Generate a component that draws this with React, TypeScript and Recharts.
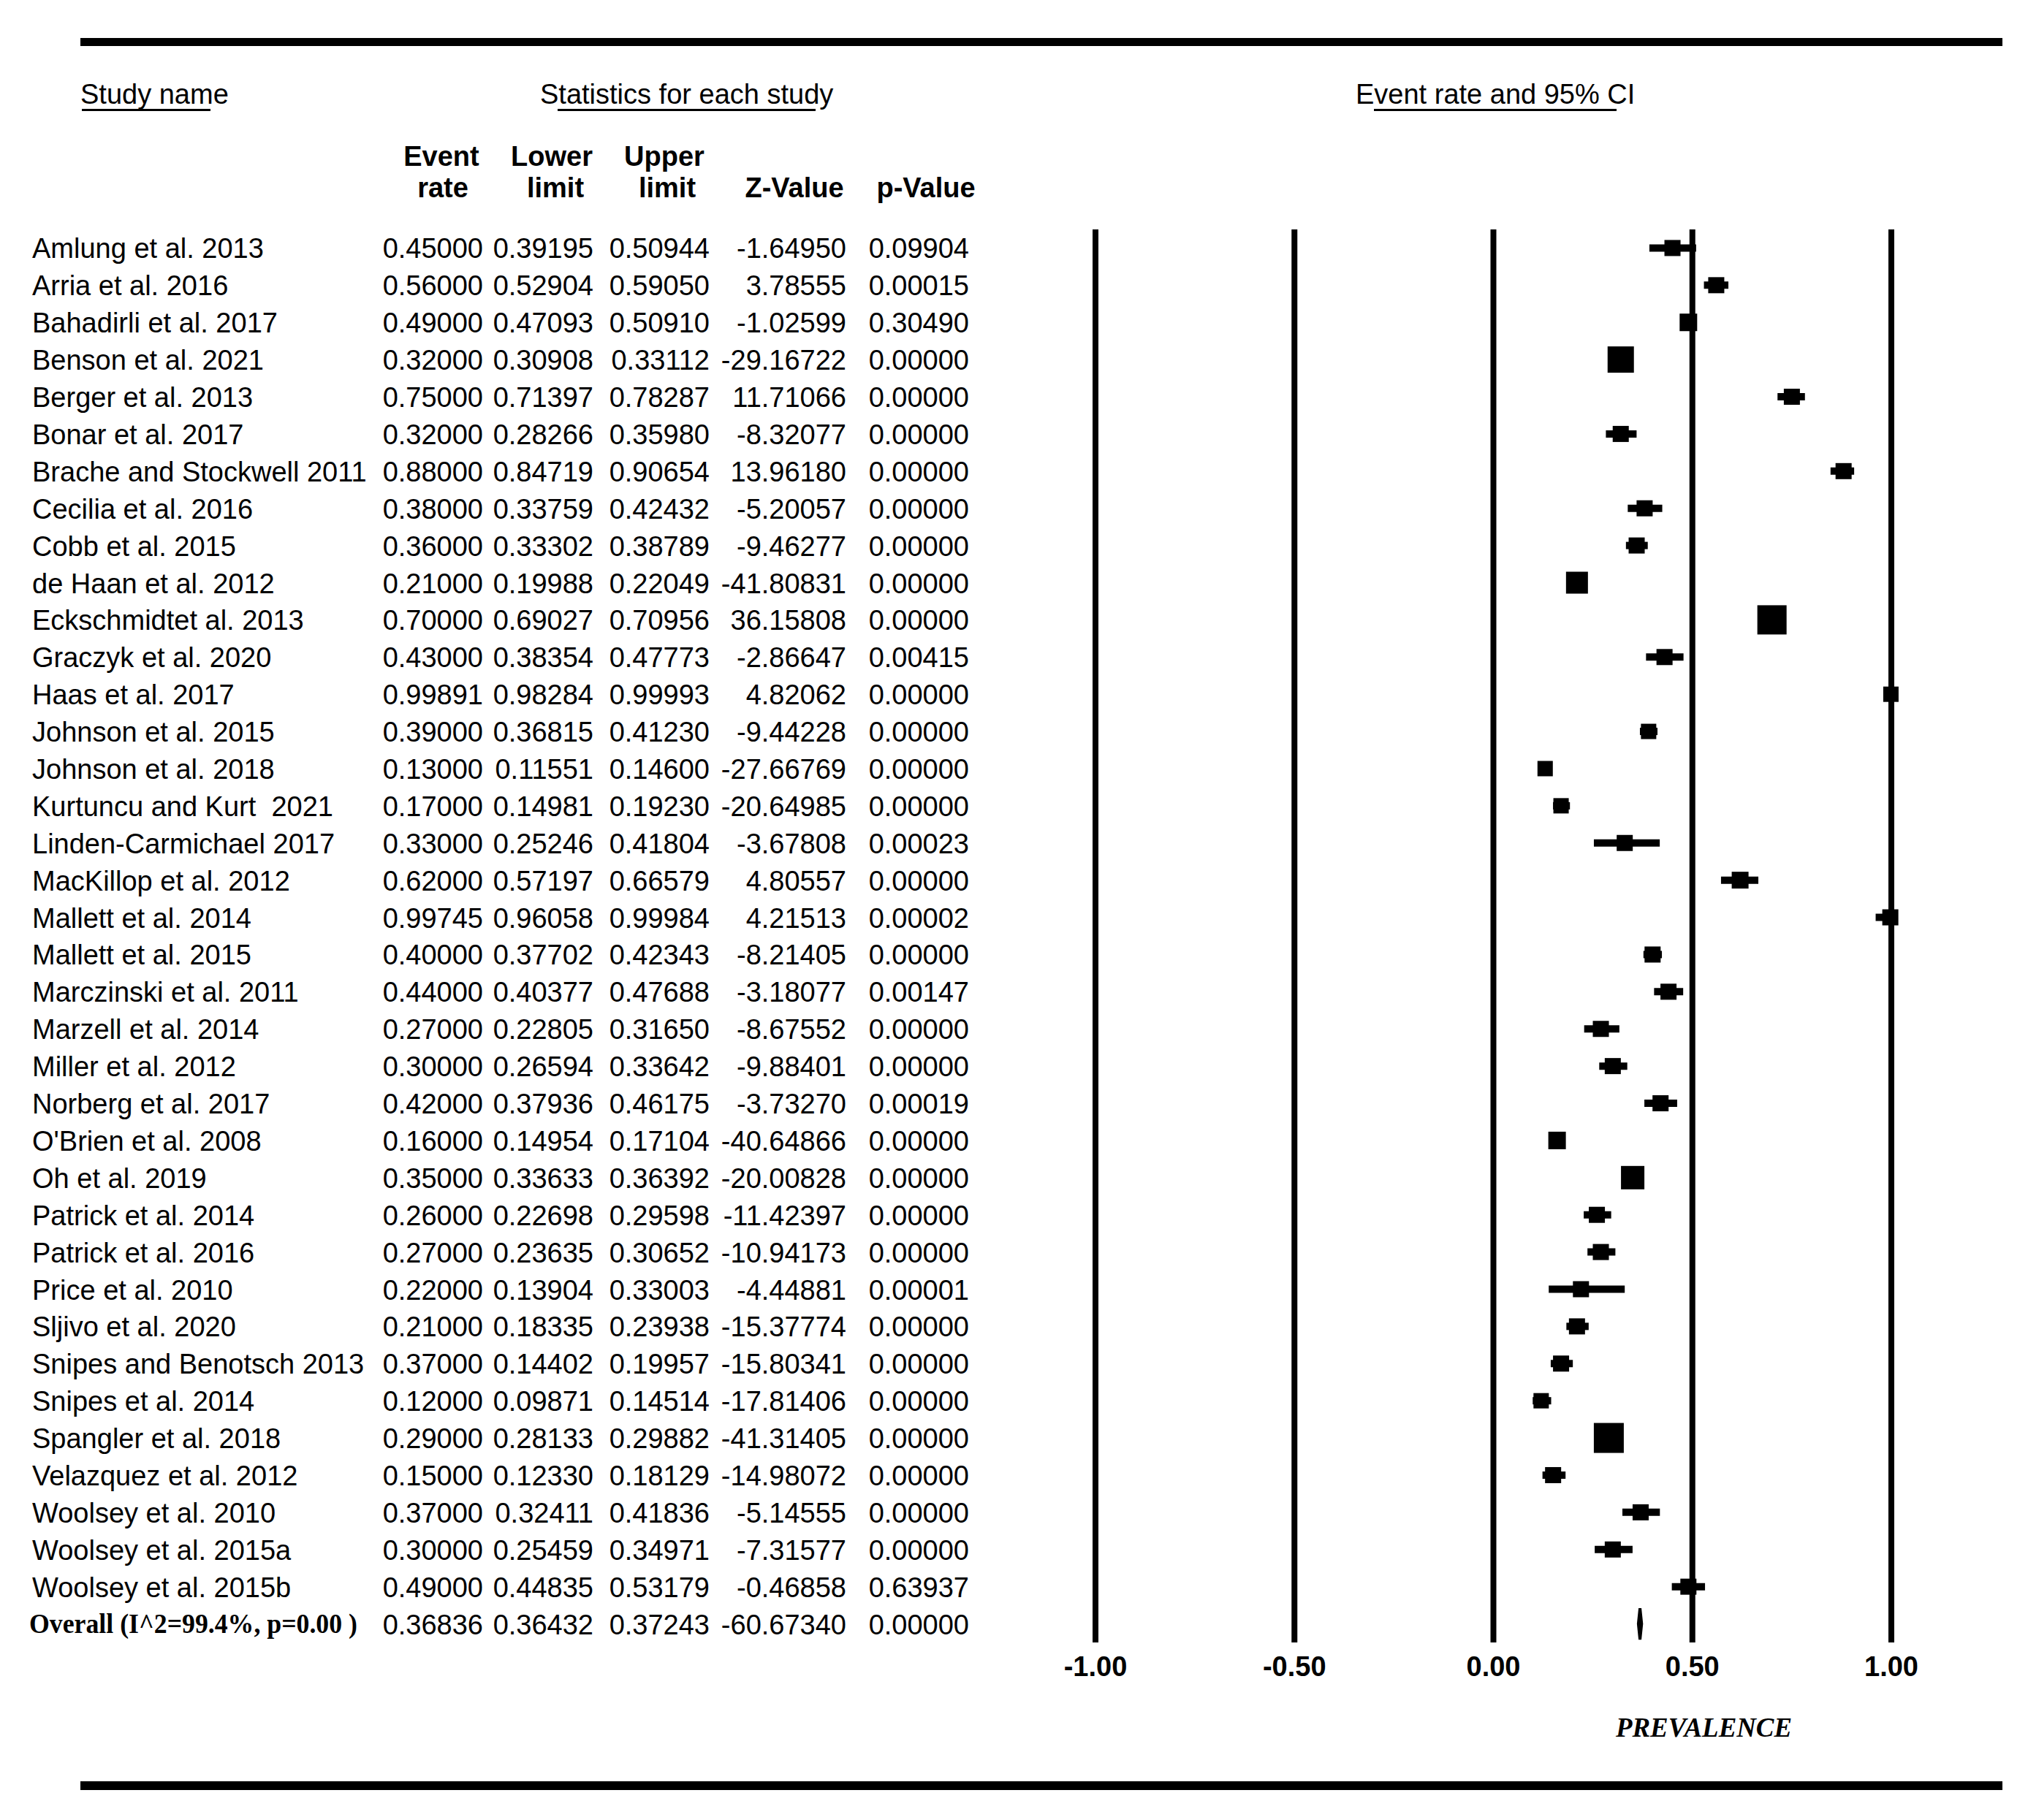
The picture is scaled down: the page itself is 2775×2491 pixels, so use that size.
import React from "react";
import { ComposedChart, Scatter, ErrorBar, XAxis, YAxis, ReferenceLine } from "recharts";

const studies = [
  "Amlung et al. 2013", "Arria et al. 2016", "Bahadirli et al. 2017", "Benson et al. 2021",
  "Berger et al. 2013", "Bonar et al. 2017", "Brache and Stockwell 2011", "Cecilia et al. 2016",
  "Cobb et al. 2015", "de Haan et al. 2012", "Eckschmidtet al. 2013", "Graczyk et al. 2020",
  "Haas et al. 2017", "Johnson et al. 2015", "Johnson et al. 2018", "Kurtuncu and Kurt  2021",
  "Linden-Carmichael 2017", "MacKillop et al. 2012", "Mallett et al. 2014", "Mallett et al. 2015",
  "Marczinski et al. 2011", "Marzell et al. 2014", "Miller et al. 2012", "Norberg et al. 2017",
  "O'Brien et al. 2008", "Oh et al. 2019", "Patrick et al. 2014", "Patrick et al. 2016",
  "Price et al. 2010", "Sljivo et al. 2020", "Snipes and Benotsch 2013", "Snipes et al. 2014",
  "Spangler et al. 2018", "Velazquez et al. 2012", "Woolsey et al. 2010", "Woolsey et al. 2015a",
  "Woolsey et al. 2015b",
];
const eventRates = [
  0.45, 0.56, 0.49, 0.32, 0.75, 0.32, 0.88, 0.38, 0.36, 0.21, 0.7, 0.43, 0.99891, 0.39, 0.13, 0.17,
  0.33, 0.62, 0.99745, 0.4, 0.44, 0.27, 0.3, 0.42, 0.16, 0.35, 0.26, 0.27, 0.22, 0.21, 0.37, 0.12,
  0.29, 0.15, 0.37, 0.3, 0.49,
];
const lowerLimits = [
  0.39195, 0.52904, 0.47093, 0.30908, 0.71397, 0.28266, 0.84719, 0.33759, 0.33302, 0.19988, 0.69027,
  0.38354, 0.98284, 0.36815, 0.11551, 0.14981, 0.25246, 0.57197, 0.96058, 0.37702, 0.40377, 0.22805,
  0.26594, 0.37936, 0.14954, 0.33633, 0.22698, 0.23635, 0.13904, 0.18335, 0.14402, 0.09871, 0.28133,
  0.1233, 0.32411, 0.25459, 0.44835,
];
const upperLimits = [
  0.50944, 0.5905, 0.5091, 0.33112, 0.78287, 0.3598, 0.90654, 0.42432, 0.38789, 0.22049, 0.70956,
  0.47773, 0.99993, 0.4123, 0.146, 0.1923, 0.41804, 0.66579, 0.99984, 0.42343, 0.47688, 0.3165,
  0.33642, 0.46175, 0.17104, 0.36392, 0.29598, 0.30652, 0.33003, 0.23938, 0.19957, 0.14514, 0.29882,
  0.18129, 0.41836, 0.34971, 0.53179,
];
const zValues = [
  -1.6495, 3.78555, -1.02599, -29.16722, 11.71066, -8.32077, 13.9618, -5.20057, -9.46277, -41.80831,
  36.15808, -2.86647, 4.82062, -9.44228, -27.66769, -20.64985, -3.67808, 4.80557, 4.21513, -8.21405,
  -3.18077, -8.67552, -9.88401, -3.7327, -40.64866, -20.00828, -11.42397, -10.94173, -4.44881,
  -15.37774, -15.80341, -17.81406, -41.31405, -14.98072, -5.14555, -7.31577, -0.46858,
];
const pValues = [
  0.09904, 0.00015, 0.3049, 0, 0, 0, 0, 0, 0, 0, 0, 0.00415, 0, 0, 0, 0, 0.00023, 0, 0.00002, 0,
  0.00147, 0, 0, 0.00019, 0, 0, 0, 0, 0.00001, 0, 0, 0, 0, 0, 0, 0, 0.63937,
];
// relative study weight (marker size)
const weights = [
  2.2, 2.2, 2.4, 3.6, 2.2, 2.2, 2.2, 2.2, 2.2, 3.0, 4.0, 2.2, 2.1, 2.1, 2.1, 2.1, 2.2, 2.3, 2.2, 2.2,
  2.2, 2.2, 2.2, 2.2, 2.4, 3.2, 2.2, 2.2, 2.2, 2.2, 2.2, 2.1, 4.1, 2.2, 2.2, 2.2, 2.2,
];
// the plot puts this study's point where its interval is, not at the printed rate
const plottedRateOverride: Record<string, number> = { "Snipes and Benotsch 2013": 0.17 };

const overallLabel = "Overall (I^2=99.4%, p=0.00 )";
const overallRate = 0.36836;
const overallLower = 0.36432;
const overallUpper = 0.37243;
const overallZ = -60.6734;
const overallP = 0;

const xTicks = [-1, -0.5, 0, 0.5, 1];

const SANS = "'Liberation Sans', Arial, sans-serif";
const SERIF = "'Liberation Serif', 'Times New Roman', serif";
const COL_RIGHT = [661, 812, 971, 1158, 1326];
const N = studies.length;

const points = studies.map((name, i) => {
  const x = plottedRateOverride[name] ?? eventRates[i];
  return { x, y: i, err: [x - lowerLimits[i], upperLimits[i] - x], w: weights[i] };
});

const diamond = [
  { x: overallLower, y: N },
  { x: overallRate, y: N - 0.42 },
  { x: overallUpper, y: N },
  { x: overallRate, y: N + 0.42 },
];

function Square(props: any) {
  const { cx, cy, payload } = props;
  const s = payload.w * 10;
  return <rect x={cx - s / 2} y={cy - s / 2} width={s} height={s} fill="#000" />;
}

function RowTick(props: any) {
  const { y, payload } = props;
  const i = payload.value as number;
  const isOverall = i === N;
  const vals = isOverall
    ? [overallRate, overallLower, overallUpper, overallZ, overallP]
    : [eventRates[i], lowerLimits[i], upperLimits[i], zValues[i], pValues[i]];
  return (
    <g>
      {isOverall ? (
        <text x={40} y={y + 12} fontFamily={SERIF} fontWeight="bold" fontSize={38} fill="#000"
          textLength={449} lengthAdjust="spacingAndGlyphs">{overallLabel}</text>
      ) : (
        <text x={44} y={y + 14} fontFamily={SANS} fontSize={38} fill="#000" style={{ whiteSpace: "pre" }}>
          {studies[i]}
        </text>
      )}
      {vals.map((v, j) => (
        <text key={j} x={COL_RIGHT[j]} y={y + 14} textAnchor="end" fontFamily={SANS} fontSize={38} fill="#000">
          {v.toFixed(5)}
        </text>
      ))}
    </g>
  );
}

function AxisTick(props: any) {
  const { x, y, payload } = props;
  return (
    <text x={x} y={y + 46} textAnchor="middle" fontFamily={SANS} fontWeight="bold" fontSize={38} fill="#000">
      {payload.value.toFixed(2)}
    </text>
  );
}

function Header() {
  const hd = { fontFamily: SANS, fontSize: 38, fill: "#000" };
  const bold = { ...hd, fontWeight: "bold" as const, textAnchor: "middle" as const };
  return (
    <svg width={2775} height={2491} style={{ position: "absolute", left: 0, top: 0, pointerEvents: "none" }}>
      <rect x={110} y={52} width={2630} height={11} fill="#000" />
      <rect x={110} y={2438} width={2630} height={12} fill="#000" />
      <text x={110} y={142} {...hd}>Study name</text>
      <rect x={112} y={149} width={176} height={3} fill="#000" />
      <text x={739} y={142} {...hd}>Statistics for each study</text>
      <rect x={763} y={149} width={353} height={3} fill="#000" />
      <text x={1855} y={142} {...hd}>Event rate and 95% CI</text>
      <rect x={1880} y={149} width={332} height={3} fill="#000" />
      <text x={604} y={227} {...bold}>Event</text>
      <text x={606} y={270} {...bold}>rate</text>
      <text x={755} y={227} {...bold}>Lower</text>
      <text x={760} y={270} {...bold}>limit</text>
      <text x={909} y={227} {...bold}>Upper</text>
      <text x={913} y={270} {...bold}>limit</text>
      <text x={1087} y={270} {...bold}>Z-Value</text>
      <text x={1267} y={270} {...bold}>p-Value</text>
      <text x={2211} y={2377} fontFamily={SERIF} fontWeight="bold" fontStyle="italic" fontSize={38} fill="#000"
        textLength={241} lengthAdjust="spacingAndGlyphs">PREVALENCE</text>
    </svg>
  );
}

export default function App() {
  const rowTicks = Array.from({ length: N + 1 }, (_, i) => i);
  return (
    <div style={{ position: "absolute", left: 0, top: 0, width: 2775, height: 2491, background: "#fff" }}>
      <ComposedChart width={2775} height={2491} margin={{ top: 314, right: 187, bottom: 183, left: 0 }}>
        <XAxis type="number" dataKey="x" domain={[-1, 1]} ticks={xTicks}
          axisLine={false} tickLine={false} tickSize={0} tickMargin={0} height={60} tick={<AxisTick />} interval={0} />
        <YAxis type="number" dataKey="y" domain={[-0.5, N + 0.5]} reversed ticks={rowTicks}
          width={1499} axisLine={false} tickLine={false} tick={<RowTick />} interval={0} />
        {xTicks.map((t) => (
          <ReferenceLine key={t} x={t} stroke="#000" strokeWidth={8} />
        ))}
        <Scatter data={points} shape={<Square />} isAnimationActive={false}>
          <ErrorBar dataKey="err" direction="x" width={0} strokeWidth={10} stroke="#000" isAnimationActive={false} />
        </Scatter>
        <Scatter data={diamond} line={{ stroke: "#000", strokeWidth: 4, fill: "#000" }} lineJointType="linearClosed"
          shape={() => <g />} isAnimationActive={false} />
      </ComposedChart>
      <Header />
    </div>
  );
}
